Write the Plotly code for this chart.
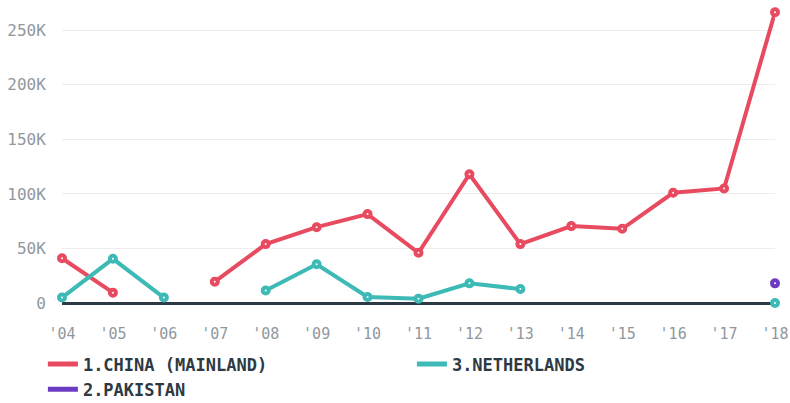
import plotly.graph_objects as go

years = list(range(2004, 2019))
tick_labels = ["'04", "'05", "'06", "'07", "'08", "'09", "'10", "'11", "'12", "'13", "'14", "'15", "'16", "'17", "'18"]

china = [41000, 9500, None, 19500, 54000, 69500, 81500, 46000, 118000, 54000, 70500, 68000, 101000, 105000, 266500]
netherlands = [5000, 40500, 5000, None, 11500, 35500, 5500, 4000, 18000, 12800, None, None, None, None, 0]
pakistan = [None] * 14 + [18000]

series = [
    ("1.CHINA (MAINLAND)", china, "#e84a5f"),
    ("3.NETHERLANDS", netherlands, "#3dbab6"),
    ("2.PAKISTAN", pakistan, "#6c3bc4"),
]

fig = go.Figure()
for name, vals, col in series:
    fig.add_trace(go.Scatter(
        x=years, y=vals, name=name, mode="lines+markers", showlegend=False,
        legendgroup=name,
        line=dict(color=col, width=4),
        marker=dict(symbol="circle", size=6, color="white", line=dict(color=col, width=4)),
        cliponaxis=False, connectgaps=False,
    ))
for name, vals, col in series:
    fig.add_trace(go.Scatter(
        x=[None], y=[None], name=name, mode="lines", legendgroup=name,
        line=dict(color=col, width=5), showlegend=True,
    ))

font_family = "DejaVu Sans Mono"
fig.update_layout(
    width=790, height=403,
    margin=dict(l=62, r=15, t=3, b=100, autoexpand=False),
    plot_bgcolor="white", paper_bgcolor="white",
    showlegend=True,
    legend=dict(
        orientation="h", x=-0.0268, xanchor="left", y=-0.145, yanchor="top",
        entrywidth=324, entrywidthmode="pixels",
        font=dict(family=font_family, size=17, color="#2e3a43", weight="bold"),
        tracegroupgap=0, itemwidth=30,
    ),
    xaxis=dict(
        range=[2004, 2018], tickmode="array", tickvals=years, ticktext=tick_labels,
        showgrid=False, zeroline=False, showline=False, automargin=False,
        tickfont=dict(family=font_family, size=15, color="#8f989e"),
        ticks="outside", ticklen=17, tickcolor="rgba(0,0,0,0)",
    ),
    yaxis=dict(
        range=[0, 275000], tickmode="array",
        tickvals=[0, 50000, 100000, 150000, 200000, 250000],
        ticktext=["0", "50K", "100K", "150K", "200K", "250K"],
        showgrid=True, gridcolor="#ececec", gridwidth=1, automargin=False,
        zeroline=True, zerolinecolor="#2e3a43", zerolinewidth=3,
        tickfont=dict(family=font_family, size=16, color="#8f989e"),
        ticks="outside", ticklen=12, tickcolor="rgba(0,0,0,0)",
    ),
)

fig.write_html("out.html", config={"displayModeBar": False},
               post_script="document.body.style.margin='0';document.body.style.padding='0';")
